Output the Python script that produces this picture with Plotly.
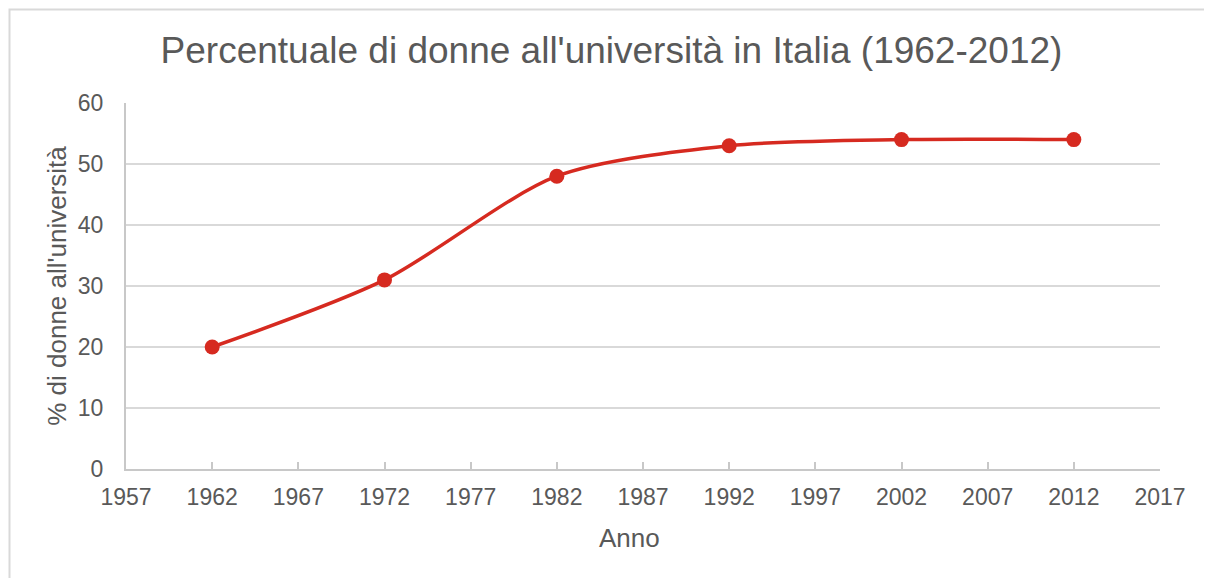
import plotly.graph_objects as go

anni = [1962, 1972, 1982, 1992, 2002, 2012]
percentuali = [20, 31, 48, 53, 54, 54]
x_ticks = [1957, 1962, 1967, 1972, 1977, 1982, 1987, 1992, 1997, 2002, 2007, 2012, 2017]
y_ticks = [0, 10, 20, 30, 40, 50, 60]

W, H = 1212, 578
OFF = 8  # page body margin
L, R, T, B = 126, 52, 103, 109
pw, ph = W - L - R, H - T - B

def px_x(p):
    return (p - L) / pw

def px_y(p):
    return (H - B - p) / ph

grey = "#595959"
red = "#d62a20"

fig = go.Figure()
fig.add_trace(go.Scatter(
    x=anni, y=percentuali, mode="lines+markers",
    line=dict(color=red, width=3.5, shape="spline", smoothing=0.8),
    marker=dict(color=red, size=15),
    cliponaxis=False, showlegend=False,
))

fig.update_layout(
    width=W, height=H,
    margin=dict(l=L - OFF, r=R + OFF, t=T - OFF, b=B + OFF),
    paper_bgcolor="white", plot_bgcolor="white",
    font=dict(family="Liberation Sans, Arial, sans-serif", color=grey),
    title=dict(text="Percentuale di donne all'università in Italia (1962-2012)",
               x=(611.5 - OFF) / W, xref="container", xanchor="center",
               y=1 - (50 - OFF) / H, yref="container", yanchor="middle",
               font=dict(size=37, color=grey)),
    xaxis=dict(range=[1957, 2017], tickvals=x_ticks, ticktext=[str(v) for v in x_ticks],
               showgrid=False, zeroline=False, showline=True, linecolor="#c8c8c8", linewidth=2,
               ticks="inside", ticklen=7, tickcolor="#c8c8c8", tickwidth=2,
               ticklabelstandoff=6,
               tickfont=dict(size=23, color=grey)),
    yaxis=dict(range=[0, 60], tickvals=y_ticks,
               showgrid=True, gridcolor="#d9d9d9", gridwidth=2, zeroline=False,
               showline=True, linecolor="#c8c8c8", linewidth=2, ticks="",
               ticklabelstandoff=16,
               tickfont=dict(size=23, color=grey),
               title=dict(text="% di donne all'università", font=dict(size=26, color=grey), standoff=4)),
)

# x axis title (placed like the reference, slightly left of the plot centre)
fig.add_annotation(text="Anno", xref="paper", yref="paper",
                   x=px_x(629), y=px_y(538), xanchor="center", yanchor="middle",
                   showarrow=False, font=dict(size=26, color=grey))

# outer chart border (left & top visible, rest beyond the frame)
fig.add_shape(type="rect", xref="paper", yref="paper",
              x0=px_x(9.5), x1=px_x(1240), y0=px_y(600), y1=px_y(9.5),
              line=dict(color="#d9d9d9", width=2), layer="above")

fig.write_html("out.html")
